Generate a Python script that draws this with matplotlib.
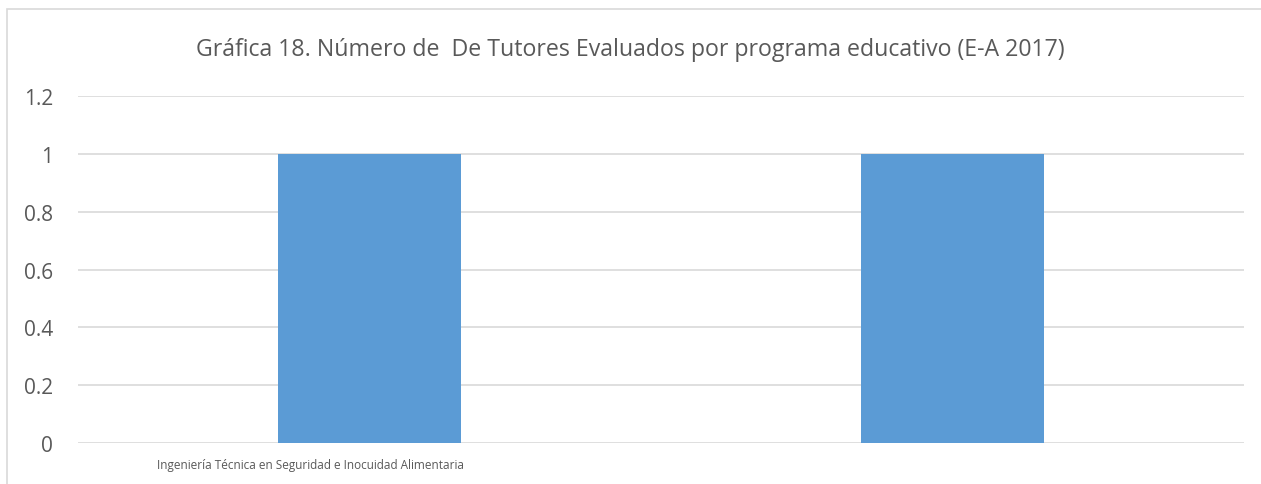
import matplotlib
matplotlib.use("Agg")
import matplotlib.pyplot as plt
import matplotlib.patches as mpatches
from matplotlib.transforms import ScaledTranslation

# data
programas = ["Ingeniería Técnica en Seguridad e Inocuidad Alimentaria", ""]
tutores = [1, 1]
y_ticks = [0, 0.2, 0.4, 0.6, 0.8, 1, 1.2]
y_labels = ["0", "0.2", "0.4", "0.6", "0.8", "1", "1.2"]
titulo = "Gráfica 18. Número de  De Tutores Evaluados por programa educativo (E-A 2017)"

plt.rcParams['font.family'] = ['Open Sans', 'DejaVu Sans']
gris = "#595959"

fig = plt.figure(figsize=(12.61, 4.85), dpi=100)
ax = fig.add_axes([0.0619, 0.0845, 0.9246, 0.7155])

x = list(range(len(tutores)))
ax.bar(x, tutores, width=0.313, color="#5B9BD5", zorder=3)

ax.set_xlim(-0.5, 1.5)
ax.set_ylim(0, 1.2)
ax.set_yticks(y_ticks, y_labels, fontsize=15, color=gris)
ax.set_xticks(x, programas, fontsize=8.5, color=gris)
ax.tick_params(length=0, axis="y", pad=18)
ax.tick_params(length=0, axis="x", pad=11)
# Excel put the label a bit left of the bar
lbl = ax.get_xticklabels()[0]
lbl.set_transform(lbl.get_transform() + ScaledTranslation(-0.59, 0, fig.dpi_scale_trans))

ax.grid(axis="y", color="#D9D9D9", linewidth=1.2, zorder=0)
for s in ax.spines.values():
    s.set_visible(False)

fig.text(0.5, 1 - 50 / 485, titulo, ha="center", va="center", fontsize=16.7, color=gris)

# chart border (only top and left are visible in the crop)
fig.patches.append(mpatches.Rectangle((7 / 1261, -0.2), 1.2, 1.2 - 10 / 485,
                                      transform=fig.transFigure, fill=False,
                                      edgecolor="#D9D9D9", linewidth=1.2))

fig.savefig("out.png", dpi=100)
